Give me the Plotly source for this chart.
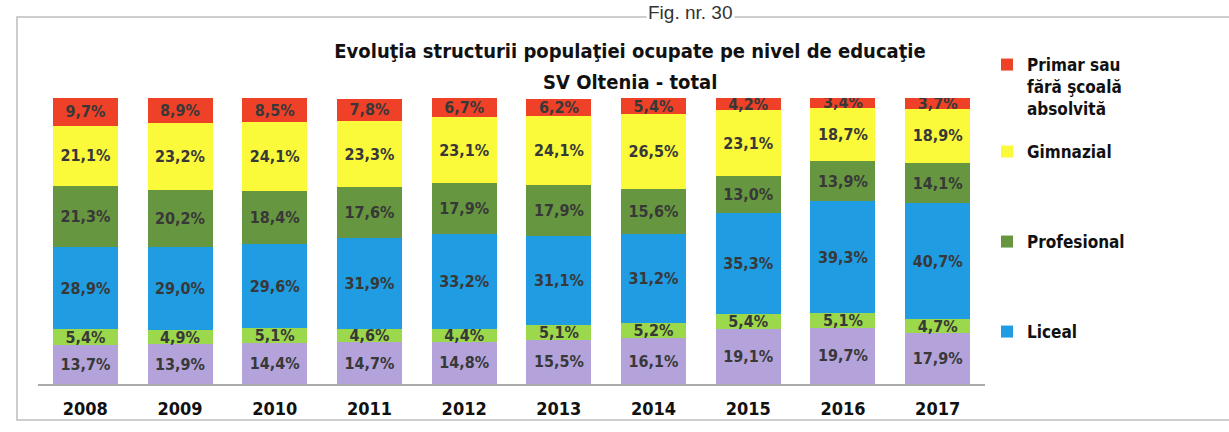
import plotly.graph_objects as go

years = ["2008", "2009", "2010", "2011", "2012", "2013", "2014", "2015", "2016", "2017"]

superior = [13.7, 13.9, 14.4, 14.7, 14.8, 15.5, 16.1, 19.1, 19.7, 17.9]
postliceal = [5.4, 4.9, 5.1, 4.6, 4.4, 5.1, 5.2, 5.4, 5.1, 4.7]
liceal = [28.9, 29.0, 29.6, 31.9, 33.2, 31.1, 31.2, 35.3, 39.3, 40.7]
profesional = [21.3, 20.2, 18.4, 17.6, 17.9, 17.9, 15.6, 13.0, 13.9, 14.1]
gimnazial = [21.1, 23.2, 24.1, 23.3, 23.1, 24.1, 26.5, 23.1, 18.7, 18.9]
primar = [9.7, 8.9, 8.5, 7.8, 6.7, 6.2, 5.4, 4.2, 3.4, 3.7]

title_line1 = "Evoluţia structurii populaţiei ocupate pe nivel de educaţie"
title_line2 = "SV Oltenia - total"
fig_label = "Fig. nr. 30"

series = [
    ("Superior", superior, "#B3A3DA", None),
    ("Postliceal", postliceal, "#9CD84B", None),
    ("Liceal", liceal, "#1F9CE2", "legend4"),
    ("Profesional", profesional, "#66963F", "legend3"),
    ("Gimnazial", gimnazial, "#FAFA3A", "legend2"),
    ("Primar sau<br>fără şcoală<br>absolvită", primar, "#EF4128", "legend"),
]

FONT = "Liberation Sans Narrow, Arial Narrow, DejaVu Sans Condensed, sans-serif"

fig = go.Figure()
for name, vals, color, leg in series:
    fig.add_trace(go.Bar(
        x=years, y=vals, name=name,
        marker=dict(color=color, line=dict(width=0)),
        text=[f"{v:.1f}%".replace(".", ",") for v in vals],
        textposition="inside", insidetextanchor="middle", textangle=0,
        textfont=dict(family=FONT, size=16, color="#383838", weight="bold"),
        showlegend=leg is not None,
        legend=leg if leg else "legend",
    ))

totals = [sum(v) for v in zip(superior, postliceal, liceal, profesional, gimnazial, primar)]

W, H = 1229, 432
L, R, T, B = 38, 985, 98, 384
def py(pix):
    return (B - pix) / (B - T)

def px(pix):
    return (pix - L) / (R - L)

legfont = dict(family=FONT, size=17, color="#111", weight="bold")
legcommon = dict(font=legfont, bgcolor="rgba(0,0,0,0)", xanchor="left", yanchor="middle",
                 xref="container", yref="container", x=987 / W, itemwidth=30)

titlefont = dict(family=FONT, size=20, color="#111", weight="bold")

fig.update_layout(
    width=W, height=H,
    margin=dict(l=L, r=W - R, t=T, b=H - B, autoexpand=False),
    paper_bgcolor="white", plot_bgcolor="white",
    barmode="stack", bargap=0.314,
    uniformtext=dict(minsize=16, mode="show"),
    title=dict(
        text=title_line1, font=titlefont,
        x=630 / W, xanchor="center", xref="container",
        y=1 - 51 / H, yanchor="middle", yref="container",
    ),
    xaxis=dict(
        showline=True, linecolor="#AAAAAA", linewidth=1.5, ticks="",
        tickfont=dict(family=FONT, size=18, color="#111", weight="bold"),
        showgrid=False, ticklabelstandoff=8,
    ),
    yaxis=dict(visible=False, range=[0, max(totals)], showgrid=False),
    legend=dict(y=1 - 87 / H, valign="top", **legcommon),
    legend2=dict(y=1 - 152 / H, **legcommon),
    legend3=dict(y=1 - 242 / H, **legcommon),
    legend4=dict(y=1 - 332 / H, **legcommon),
    shapes=[
        dict(type="rect", xref="paper", yref="paper",
             x0=px(17), x1=px(1240), y0=py(420), y1=py(17),
             line=dict(color="#BDBDBD", width=1.5), fillcolor="rgba(0,0,0,0)", layer="below"),
    ],
    annotations=[
        dict(text=title_line2, xref="paper", yref="paper", x=px(630), y=py(82),
             xanchor="center", yanchor="middle", showarrow=False, font=titlefont),
        dict(text=fig_label, xref="paper", yref="paper", x=px(690), y=py(13),
             xanchor="center", yanchor="middle", showarrow=False, bgcolor="white",
             font=dict(family="Liberation Sans, Arial, sans-serif", size=19, color="#333")),
    ],
)

fig.write_html("out.html", config={"displayModeBar": False},
               post_script="document.body.style.margin='0';document.body.style.overflow='hidden';")
